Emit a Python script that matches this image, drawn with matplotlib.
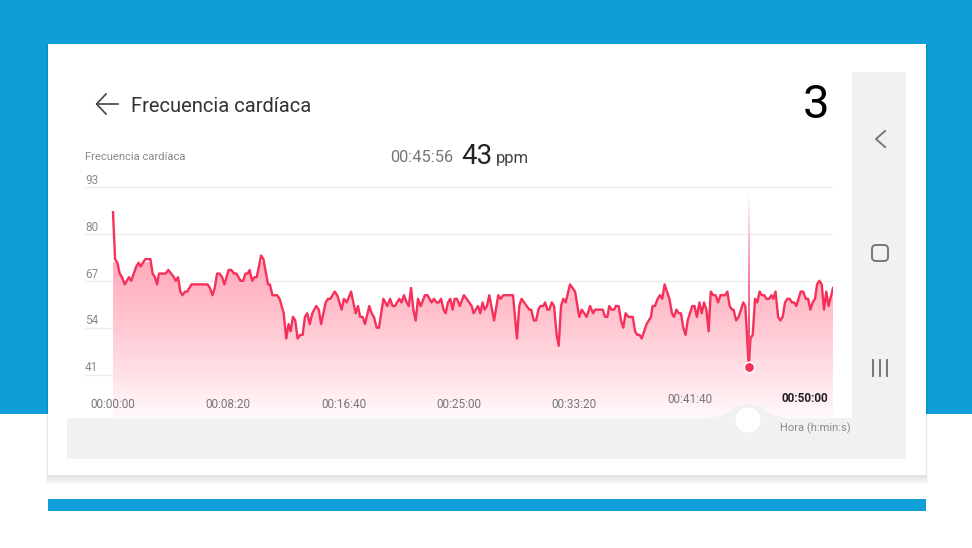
import numpy as np
import matplotlib
matplotlib.use('Agg')
import matplotlib.pyplot as plt
from matplotlib.colors import LinearSegmentedColormap
from matplotlib.patches import Circle, FancyBboxPatch, PathPatch, Rectangle
from matplotlib.path import Path

plt.rcParams['font.family'] = ['Roboto', 'DejaVu Sans']

# heart rate curve (seconds, ppm)
seconds = [
    0, 9, 19, 29, 39, 51, 69, 79, 101, 111, 120, 140, 162, 172, 182, 191, 199, 228, 240, 264,
    272, 282, 292, 301, 312, 322, 340, 410, 420, 431, 441, 451, 462, 473, 483, 501, 513, 525, 535, 553,
    564, 574, 584, 592, 603, 614, 623, 642, 652, 672, 680, 691, 711, 722, 740, 751, 761, 770, 780, 790,
    800, 812, 822, 832, 842, 853, 864, 881, 892, 902, 922, 932, 942, 961, 972, 991, 1001, 1013, 1032, 1045,
    1052, 1062, 1071, 1082, 1092, 1111, 1121, 1131, 1143, 1153, 1172, 1189, 1201, 1212, 1222, 1241, 1251, 1261, 1273, 1282,
    1292, 1302, 1312, 1322, 1334, 1352, 1363, 1381, 1391, 1403, 1412, 1422, 1433, 1442, 1452, 1462, 1472, 1481, 1491, 1503,
    1521, 1533, 1555, 1563, 1582, 1592, 1602, 1611, 1621, 1631, 1652, 1670, 1680, 1692, 1734, 1751, 1761, 1771, 1793, 1805,
    1813, 1824, 1834, 1844, 1852, 1865, 1873, 1883, 1891, 1902, 1912, 1923, 1932, 1942, 1952, 1962, 1981, 2003, 2021, 2032,
    2053, 2068, 2081, 2089, 2123, 2133, 2143, 2151, 2162, 2172, 2180, 2192, 2202, 2212, 2222, 2234, 2253, 2263, 2273, 2283,
    2292, 2313, 2332, 2339, 2349, 2361, 2371, 2381, 2391, 2412, 2423, 2432, 2442, 2452, 2462, 2472, 2482, 2491, 2511, 2521,
    2531, 2542, 2552, 2562, 2572, 2582, 2591, 2602, 2612, 2623, 2633, 2653, 2663, 2673, 2683, 2690, 2701, 2712, 2732, 2741,
    2756, 2763, 2773, 2783, 2793, 2803, 2813, 2823, 2833, 2844, 2854, 2862, 2872, 2883, 2893, 2903, 2913, 2923, 2933, 2943,
    2952, 2962, 2981, 2992, 3003, 3013, 3023, 3033, 3043, 3052, 3062, 3072, 3082, 3092, 3102, 3121,
]
ppm = [
    86, 73, 72, 69, 68, 66, 68, 67, 71, 72, 71, 73, 73, 69, 68, 66, 69, 69, 70, 68,
    67, 68, 64, 63, 64, 64, 66, 66, 65, 63, 65, 69, 69, 68, 66, 70, 70, 69, 69, 67,
    67, 69, 69, 70, 67, 68, 68, 74, 73, 66, 66, 63, 63, 62, 58, 51, 55, 53, 57, 56,
    51, 52, 52, 57, 58, 55, 58, 60, 59, 55, 61, 62, 62, 64, 63, 59, 62, 61, 64, 60,
    58, 60, 57, 57, 55, 60, 58, 57, 54, 54, 62, 60, 62, 60, 60, 62, 61, 63, 61, 60,
    65, 59, 56, 62, 60, 63, 63, 61, 62, 61, 61, 62, 59, 58, 61, 62, 59, 62, 62, 60,
    63, 62, 60, 58, 60, 58, 61, 59, 60, 63, 56, 63, 62, 63, 63, 51, 60, 62, 60, 59,
    59, 56, 56, 59, 60, 60, 61, 59, 59, 61, 60, 52, 49, 60, 62, 61, 66, 64, 57, 59,
    57, 60, 58, 59, 59, 57, 57, 60, 59, 59, 60, 60, 56, 54, 58, 57, 57, 53, 52, 52,
    51, 55, 57, 60, 60, 62, 63, 62, 66, 62, 58, 57, 59, 58, 58, 54, 52, 56, 60, 60,
    57, 61, 58, 61, 59, 53, 64, 63, 63, 61, 63, 63, 64, 60, 59, 59, 56, 57, 61, 60,
    43, 51, 52, 62, 61, 64, 63, 63, 62, 62, 63, 62, 64, 57, 56, 57, 61, 62, 62, 61,
    61, 60, 64, 64, 62, 62, 59, 61, 62, 66, 67, 66, 59, 64, 60, 65,
]
y_ticks = [93, 80, 67, 54, 41]
x_ticks = [0, 500, 1000, 1500, 2000, 2500, 3000]
x_labels = ['00:00:00', '00:08:20', '00:16:40', '00:25:00', '00:33:20', '00:41:40', '00:50:00']
sel_time, sel_ppm = 2756, 43

BLUE = '#0F9FD8'
GREY = '#F1F1F1'
RED = '#F5305A'

fig = plt.figure(figsize=(9.72, 5.48), dpi=100)

# page furniture is laid out in pixels
bg = fig.add_axes([0, 0, 1, 1], zorder=0)
bg.set_xlim(0, 972)
bg.set_ylim(548, 0)
bg.axis('off')
bg.add_patch(Rectangle((0, 0), 972, 414, color=BLUE, lw=0))
for i in range(10, 0, -1):
    bg.add_patch(Rectangle((48 - i * 0.2, 44), 878 + i * 0.4, 431 + i, color='black', alpha=0.012, lw=0))
bg.add_patch(Rectangle((48, 44), 878, 431, color='white', lw=0))
bg.add_patch(Rectangle((48, 499), 878, 12, color=BLUE, lw=0))
bg.add_patch(Rectangle((852, 72), 54, 387, color=GREY, lw=0))
bg.add_patch(Rectangle((67, 418), 785, 41, color=GREY, lw=0))

bg.text(131, 106, 'Frecuencia cardíaca', fontsize=14.5, color='#333333', va='center', ha='left')
bg.plot([97, 118], [104, 104], color='#444444', lw=1.2)
bg.plot([106, 96.5, 106], [94, 104, 114], color='#444444', lw=1.2)
bg.text(85, 156.5, 'Frecuencia cardíaca', fontsize=8.15, color='#8a8a8a', va='center', ha='left')
bg.text(390, 157.5, '00:45:56', fontsize=11.8, color='#777777', va='center', ha='left')
bg.text(461, 156, '43', fontsize=20, color='#222222', va='center', ha='left')
bg.text(496, 158.5, 'ppm', fontsize=12, color='#444444', va='center', ha='left')
bg.text(816, 105, '3', fontsize=34, color='black', va='center', ha='center')

# chart: x axis runs past 50:00, y axis runs below 41 so the fill fades out
ax = fig.add_axes([85 / 972, 1 - 417 / 548, 748 / 972, 230 / 548], zorder=1)
ax.patch.set_alpha(0)
ax.set_xlim(-121.4, 3121)
ax.set_ylim(29.24, 93)
ax.axis('off')

for v in y_ticks:
    ax.axhline(v, color='#EEEEEE', lw=1, zorder=1)
    ax.annotate(str(v), (0, v), xycoords=('axes fraction', 'data'), xytext=(0, 0.2), textcoords='offset points',
                fontsize=8.5, color='#8a8a8a', ha='left', va='bottom')

grad = np.linspace(0, 1, 256).reshape(-1, 1)
cmap = LinearSegmentedColormap.from_list('fade', ['#FFABBC', '#FFC2CE', '#FFDCE3', '#FFF9FA'])
img = ax.imshow(grad, cmap=cmap, aspect='auto', extent=(0, 3121, 29.24, 72), zorder=2)
clip = ax.fill_between(seconds, ppm, 29.24, color='none', lw=0)
img.set_clip_path(clip.get_paths()[0], transform=ax.transData)
ax.set_xlim(-121.4, 3121)
ax.set_ylim(29.24, 93)

ax.plot(seconds, ppm, color=RED, lw=1.7, solid_joinstyle='round', zorder=3)

# selected reading: thin fading cursor and dot
cursor = LinearSegmentedColormap.from_list('cursor', ['#FFFFFF', '#F77E98', RED])
cur = ax.imshow(np.linspace(0, 1, 256).reshape(-1, 1), cmap=cursor, aspect='auto', origin='upper',
                extent=(sel_time - 2.2, sel_time + 2.2, 43, 91), zorder=3)
ax.set_xlim(-121.4, 3121)
ax.set_ylim(29.24, 93)
ax.plot([sel_time], [sel_ppm], 'o', ms=7.5, color=RED, mec='white', mew=1.2, zorder=4)

for i, (t, lab) in enumerate(zip(x_ticks, x_labels)):
    if lab == '00:50:00':
        ax.text(t, 34.4, lab, fontsize=8.5, color='#222222', weight='bold', ha='center', va='center', zorder=5)
    elif lab == '00:41:40':
        ax.text(t, 34.1, lab, fontsize=8.5, color='#777777', ha='center', va='center', zorder=5)
    else:
        ax.text(t, 32.7, lab, fontsize=8.5, color='#777777', ha='center', va='center', zorder=5)

# foreground: slider hump, knob, nav bar icons
fg = fig.add_axes([0, 0, 1, 1], zorder=2)
fg.patch.set_alpha(0)
fg.set_xlim(0, 972)
fg.set_ylim(548, 0)
fg.axis('off')
hump = Path([(705, 418), (728, 418), (733, 404), (748, 404), (763, 404), (768, 418), (791, 418), (705, 418)],
            [Path.MOVETO, Path.CURVE4, Path.CURVE4, Path.CURVE4, Path.CURVE4, Path.CURVE4, Path.CURVE4, Path.CLOSEPOLY])
fg.add_patch(PathPatch(hump, facecolor=GREY, edgecolor='none'))
fg.add_patch(Circle((748, 420), 12.5, color='white', lw=0))
fg.text(780, 428, 'Hora (h:min:s)', fontsize=8, color='#8a8a8a', ha='left', va='center')

fg.plot([885, 876, 885], [131, 139, 147], color='#777777', lw=1.4)
fg.add_patch(FancyBboxPatch((872, 245), 16, 16, boxstyle='round,pad=0,rounding_size=4', fc='none', ec='#777777', lw=1.4))
for x in (873, 880, 887):
    fg.plot([x, x], [360, 376], color='#777777', lw=1.4)

fig.savefig('out.png', dpi=100)
